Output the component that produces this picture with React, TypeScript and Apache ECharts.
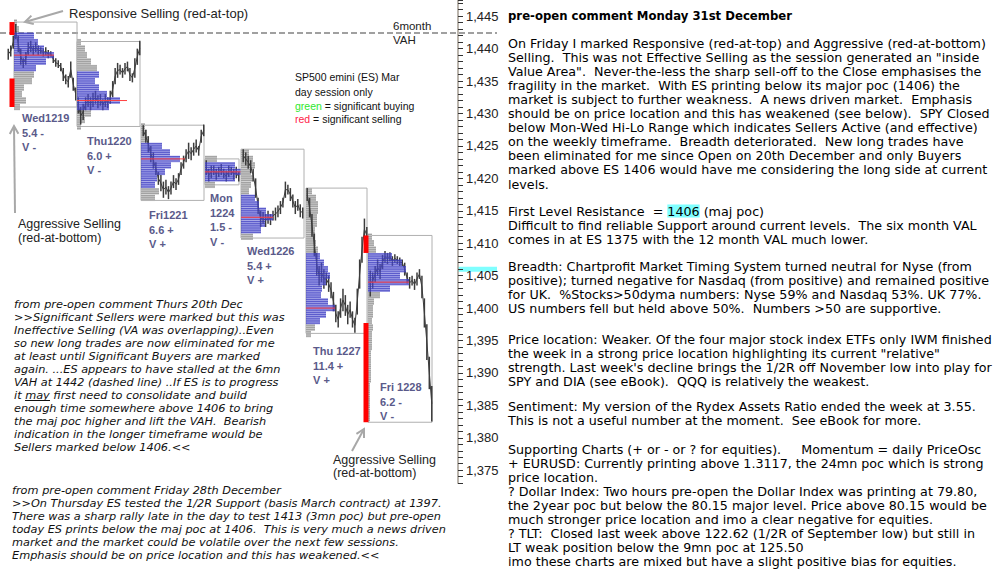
import React, { useEffect, useRef } from "react";
import * as echarts from "echarts";

// ---------------- Sessions (SP500 emini day sessions) ----------------
const sessionNames = ["Wed1219", "Thu1220", "Fri1221", "Mon1224", "Wed1226", "Thu1227", "Fri1228"];
const sessionStart = [14, 77, 141, 205, 241, 306, 368];
const sessionEnd = [77, 140, 204, 239, 304, 367, 432];
const traceStart = [7, 77, 142, 205, 242, 306, 369];
const traceEnd = [77, 141, 205, 240, 304, 368, 433];
const sessionHigh = [1444.1, 1441.1, 1428.2, 1423, 1424.5, 1418.5, 1411.2];
const sessionLow = [1431, 1428, 1416.6, 1419, 1410.8, 1396.1, 1382.4];

// Profiles: TPO width per 1-point price row, starting at profileTop going down
const profileTop = [1444, 1441, 1428, 1423, 1424, 1418, 1411];
const profileTpo = [
  [3, 5, 20, 24, 30, 40, 32, 22, 20, 18, 10, 8, 12, 6],
  [4, 8, 10, 14, 20, 22, 18, 22, 30, 43, 32, 14, 8, 4],
  [4, 6, 8, 21, 29, 39, 30, 24, 16, 14, 18, 14],
  [12, 30, 46, 30, 10],
  [8, 12, 14, 10, 12, 10, 8, 14, 18, 25, 32, 24, 20, 12],
  [6, 10, 12, 12, 11, 11, 9, 9, 10, 12, 14, 18, 22, 24, 20, 16, 15, 22, 29, 20, 14, 9, 5],
  [4, 6, 8, 24, 34, 38, 32, 41, 22, 12, 6, 5, 5, 4, 5, 4, 4, 4, 3, 3, 3, 3, 3, 2, 2, 2, 2, 2, 2],
];
const vaHigh = [1442, 1436, 1425, 1422, 1417, 1408, 1408];
const vaLow = [1437, 1431, 1419, 1420, 1412, 1398, 1403];
const poc = [1439, 1432, 1423, 1421, 1414, 1400, 1404];
const pocExtent = [40, 50, 44, 45, 32, 29, 41];

// Price bars [low, high]
const sessionBars: number[][][] = [
  [[1438.3, 1440.0], [1438.8, 1440.5], [1440.0, 1442.0], [1441.5, 1443.8], [1439.5, 1442.0], [1437.5, 1440.0], [1437.0, 1438.5], [1437.5, 1439.5], [1439.0, 1441.0], [1439.5, 1441.2], [1439.0, 1440.5], [1439.5, 1441.0], [1439.0, 1440.5], [1439.2, 1440.2], [1438.8, 1440.0], [1439.0, 1440.2], [1438.5, 1439.8], [1438.8, 1439.6], [1437.8, 1439.0], [1437.2, 1438.5], [1437.0, 1438.2], [1436.5, 1437.8], [1435.0, 1437.0], [1434.5, 1436.0], [1434.0, 1435.8], [1435.5, 1438.0], [1433.5, 1435.5], [1432.0, 1434.0]],
  [[1430.0, 1432.5], [1428.3, 1431.0], [1429.0, 1431.5], [1430.5, 1432.5], [1431.0, 1433.0], [1430.5, 1432.5], [1431.0, 1433.2], [1431.5, 1433.5], [1430.8, 1432.8], [1431.2, 1433.0], [1430.5, 1432.2], [1431.0, 1433.0], [1430.8, 1432.5], [1431.5, 1433.5], [1432.5, 1435.0], [1434.5, 1437.0], [1435.5, 1437.8], [1436.0, 1437.5], [1435.5, 1437.0], [1436.0, 1437.8], [1436.5, 1438.0], [1435.0, 1437.0], [1434.8, 1436.2], [1435.5, 1438.5], [1437.5, 1440.0], [1439.0, 1441.2]],
  [[1426.5, 1428.2], [1425.5, 1427.5], [1424.0, 1426.5], [1422.5, 1425.0], [1421.5, 1424.0], [1420.5, 1422.5], [1419.0, 1421.0], [1418.0, 1420.5], [1417.0, 1419.5], [1417.5, 1419.8], [1416.8, 1418.8], [1417.5, 1419.5], [1418.5, 1420.5], [1418.2, 1420.0], [1419.0, 1420.8], [1420.5, 1422.5], [1421.5, 1423.5], [1422.5, 1424.5], [1423.0, 1425.5], [1422.8, 1424.8], [1423.5, 1425.5], [1424.0, 1426.0], [1423.5, 1425.0], [1425.5, 1427.5], [1426.5, 1428.3]],
  [[1420.5, 1422.8], [1419.5, 1421.5], [1420.0, 1422.0], [1420.5, 1422.0], [1419.8, 1421.5], [1420.2, 1421.8], [1420.5, 1422.2], [1420.0, 1421.5], [1419.5, 1421.2], [1420.2, 1422.0], [1420.5, 1421.8], [1419.8, 1421.5], [1420.0, 1421.8], [1419.5, 1421.0]],
  [[1422.5, 1424.5], [1422.0, 1424.0], [1421.5, 1423.5], [1420.8, 1422.8], [1419.5, 1421.5], [1417.0, 1420.0], [1414.5, 1417.0], [1412.5, 1415.0], [1413.0, 1414.8], [1412.5, 1414.5], [1413.0, 1415.0], [1412.8, 1414.5], [1413.5, 1415.0], [1413.5, 1415.5], [1414.0, 1415.8], [1414.5, 1416.5], [1415.5, 1417.0], [1417.0, 1419.5], [1417.5, 1419.0], [1416.5, 1418.5], [1415.5, 1417.5], [1414.5, 1416.5], [1415.0, 1416.8], [1414.0, 1416.0], [1413.8, 1415.5]],
  [[1416.5, 1418.5], [1414.0, 1417.0], [1411.0, 1414.5], [1408.0, 1411.5], [1405.0, 1408.5], [1403.5, 1406.5], [1404.0, 1407.0], [1403.0, 1406.0], [1403.5, 1405.5], [1402.5, 1405.0], [1401.5, 1404.0], [1399.5, 1402.5], [1397.8, 1400.5], [1397.0, 1399.5], [1398.5, 1401.5], [1399.5, 1403.0], [1398.8, 1402.0], [1397.5, 1400.5], [1398.5, 1401.0], [1397.0, 1399.5], [1396.2, 1398.5], [1399.0, 1403.0], [1403.0, 1407.5], [1407.0, 1411.0], [1410.5, 1413.8], [1410.0, 1412.5]],
  [[1401.8, 1405.8], [1403.0, 1405.5], [1404.0, 1406.5], [1405.0, 1407.5], [1404.5, 1406.8], [1406.0, 1408.2], [1407.0, 1408.8], [1406.8, 1408.5], [1407.2, 1408.6], [1406.5, 1408.0], [1407.0, 1408.3], [1406.8, 1408.0], [1406.5, 1407.8], [1406.5, 1407.5], [1405.0, 1407.0], [1403.8, 1405.5], [1403.0, 1404.8], [1403.5, 1405.0], [1402.8, 1404.5], [1403.5, 1405.5], [1404.5, 1406.0], [1401.5, 1405.0], [1397.0, 1401.5], [1392.0, 1397.5], [1387.5, 1392.5], [1382.5, 1388.0]],
];

// Significant selling marks (red)
const sellSession = [0, 0, 6, 6];
const sellHigh = [1444.1, 1435.4, 1411.2, 1397.7];
const sellLow = [1442.1, 1431.0, 1408.5, 1382.4];

// Reference levels
const vahLevel = 1442.4;
const firstResistance = 1406;

// Session labels
const sessionLabels = [
  ["Wed1219", "5.4 -", "V -"],
  ["Thu1220", "6.0 +", "V -"],
  ["Fri1221", "6.6 +", "V +"],
  ["Mon", "1224", "1.5 -", "V -"],
  ["Wed1226", "5.4 +", "V +"],
  ["Thu 1227", "11.4 +", "V +"],
  ["Fri 1228", "6.2 -", "V -"],
];
const labelPos = [[22, 118], [87, 141], [149, 215], [210, 198], [247, 251], [313, 351], [380, 387]];

// Axis
const yMin = 1373;
const yMax = 1447.5;

// Texts
const block1 = [
  "from pre-open comment Thurs 20th Dec",
  ">>Significant Sellers were marked but this was",
  "Ineffective Selling (VA was overlapping)..Even",
  "so new long trades are now eliminated for me",
  "at least until Significant Buyers are marked",
  "again. ...ES appears to have stalled at the 6mn",
  "VAH at 1442 (dashed line) ..If ES is to progress",
  "it may first need to consolidate and build",
  "enough time somewhere above 1406 to bring",
  "the maj poc higher and lift the VAH.  Bearish",
  "indication in the longer timeframe would be",
  "Sellers marked below 1406.<<",
];
const block2 = [
  "from pre-open comment Friday 28th December",
  ">>On Thursday ES tested the 1/2R Support (basis March contract) at 1397.",
  "There was a sharp rally late in the day to test 1413 (3mn poc) but pre-open",
  "today ES prints below the maj poc at 1406.  This is very much a news driven",
  "market and the market could be volatile over the next few sessions.",
  "Emphasis should be on price location and this has weakened.<<",
];
const titleText = "pre-open comment Monday 31st December";
const paragraphs = [
  [
    "On Friday I marked Responsive (red-at-top) and Aggressive (red-at-bottom)",
    "Selling.  This was not Effective Selling as the session generated an \"inside",
    "Value Area\".  Never-the-less the sharp sell-off to the Close emphasises the",
    "fragility in the market.  With ES printing below its major poc (1406) the",
    "market is subject to further weakness.  A news driven market.  Emphasis",
    "should be on price location and this has weakened (see below).  SPY Closed",
    "below Mon-Wed Hi-Lo Range which indicates Sellers Active (and effective)",
    "on the weekly timeframe.  Breadth deteriorated.  New long trades have",
    "been eliminated for me since Open on 20th December and only Buyers",
    "marked above ES 1406 would have me considering the long side at current",
    "levels.",
  ],
  [
    "First Level Resistance  = {hl|1406} (maj poc)",
    "Difficult to find reliable Support around current levels.  The six month VAL",
    "comes in at ES 1375 with the 12 month VAL much lower.",
  ],
  [
    "Breadth: Chartprofit Market Timing System turned neutral for Nyse (from",
    "positive); turned negative for Nasdaq (from positive) and remained positive",
    "for UK.  %Stocks>50dyma numbers: Nyse 59% and Nasdaq 53%. UK 77%.",
    "US numbers fell but held above 50%.  Numbers >50 are supportive.",
  ],
  [
    "Price location: Weaker. Of the four major stock index ETFs only IWM finished",
    "the week in a strong price location highlighting its current \"relative\"",
    "strength. Last week's decline brings the 1/2R off November low into play for",
    "SPY and DIA (see eBook).  QQQ is relatively the weakest.",
  ],
  [
    "Sentiment: My version of the Rydex Assets Ratio ended the week at 3.55.",
    "This is not a useful number at the moment.  See eBook for more.",
  ],
  [
    "Supporting Charts (+ or - or ? for equities).     Momentum = daily PriceOsc",
    "+ EURUSD: Currently printing above 1.3117, the 24mn poc which is strong",
    "price location.",
    "? Dollar Index: Two hours pre-open the Dollar Index was printing at 79.80,",
    "the 2year poc but below the 80.15 major level. Price above 80.15 would be",
    "much stronger price location and imo a clear negative for equities.",
    "? TLT:  Closed last week above 122.62 (1/2R of September low) but still in",
    "LT weak position below the 9mn poc at 125.50",
    "imo these charts are mixed but have a slight positive bias for equities.",
  ],
];
const paragraphTop = [36, 204, 259, 332, 399, 442];

const SANS = "'Liberation Sans', Arial, sans-serif";
const VERD = "'DejaVu Sans', Verdana, sans-serif";
const BODY = 12.7;
const ITAL = 11.3;

function arrow(x1: number, y1: number, x2: number, y2: number) {
  const a = Math.atan2(y2 - y1, x2 - x1);
  const L = 9;
  const h1 = [x2 - L * Math.cos(a - 0.5), y2 - L * Math.sin(a - 0.5)];
  const h2 = [x2 - L * Math.cos(a + 0.5), y2 - L * Math.sin(a + 0.5)];
  return {
    type: "group",
    children: [
      { type: "line", shape: { x1, y1, x2, y2 }, style: { stroke: "#a8a8a8", lineWidth: 2 } },
      { type: "polyline", shape: { points: [h1, [x2, y2], h2] }, style: { stroke: "#a8a8a8", lineWidth: 2, fill: "none" } },
    ],
  };
}

function txt(x: number, y: number, text: string, font: string, fill = "#000", extra: any = {}) {
  return { type: "text", x, y, style: { text, font, fill, verticalAlign: "middle", align: "left", ...extra } };
}

function renderSession(_p: any, api: any) {
  const d = api.value(0);
  const ch: any[] = [];
  const [bx0, by0] = api.coord([sessionStart[d], sessionHigh[d]]);
  const [bx1, by1] = api.coord([sessionEnd[d], sessionLow[d]]);
  ch.push({ type: "rect", shape: { x: bx0, y: by0, width: bx1 - bx0, height: by1 - by0 }, style: { fill: "none", stroke: "#b0b0b0", lineWidth: 1 } });
  const rowH = api.size([0, 1])[1];
  const rows = (inVA: boolean) => {
    profileTpo[d].forEach((w, j) => {
      const p = profileTop[d] - j;
      const va = p <= vaHigh[d] && p >= vaLow[d];
      if (va !== inVA) return;
      const [px, py] = api.coord([sessionStart[d], p]);
      const [qx] = api.coord([sessionStart[d] + w, p]);
      const top = py - rowH / 2;
      ch.push({ type: "rect", shape: { x: px, y: top, width: qx - px, height: rowH }, style: { fill: va ? "rgba(95,95,215,0.58)" : "#c8c8c8" } });
      for (let k = 0; k < 3; k++) {
        ch.push({ type: "rect", shape: { x: px, y: top + (k * rowH) / 3 + 0.4, width: qx - px, height: 1.2 }, style: { fill: va ? "rgba(45,45,185,0.6)" : "#a2a2a2" } });
      }
    });
  };
  rows(false);
  const bars = sessionBars[d];
  const n = bars.length;
  const step = (traceEnd[d] - traceStart[d]) / n;
  const mids: number[][] = [];
  bars.forEach((b, i) => {
    const x = traceStart[d] + (i + 0.5) * step;
    const [lx, ly] = api.coord([x, b[0]]);
    const [, hy] = api.coord([x, b[1]]);
    ch.push({ type: "line", shape: { x1: lx, y1: ly, x2: lx, y2: hy }, style: { stroke: "#3c3c3c", lineWidth: 1.5 } });
    mids.push(api.coord([x, (b[0] + b[1]) / 2]));
  });
  ch.push({ type: "polyline", shape: { points: mids }, style: { stroke: "#3c3c3c", lineWidth: 1, fill: "none" } });
  rows(true);
  const [ax, ay] = api.coord([sessionStart[d], poc[d]]);
  const [cx] = api.coord([sessionStart[d] + pocExtent[d], poc[d]]);
  ch.push({ type: "line", shape: { x1: ax, y1: ay, x2: cx, y2: ay }, style: { stroke: "#ff4040", lineWidth: 1 } });
  return { type: "group", children: ch };
}

function renderSell(_p: any, api: any) {
  const i = api.value(0);
  const s = sellSession[i];
  const [x0, y0] = api.coord([sessionStart[s] - 4.5, sellHigh[i]]);
  const [x1, y1] = api.coord([sessionStart[s] + 0.5, sellLow[i]]);
  return { type: "rect", shape: { x: x0, y: y0, width: x1 - x0, height: y1 - y0 }, style: { fill: "#ff0000" } };
}

export default function App() {
  const ref = useRef<HTMLDivElement>(null);
  useEffect(() => {
    const chart = echarts.init(ref.current!, null, { renderer: "svg" });
    const graphics: any[] = [];
    graphics.push(txt(69, 13, "Responsive Selling (red-at-top)", `13px ${SANS}`, "#222"));
    graphics.push(arrow(63, 11, 25, 22));
    graphics.push(txt(393, 26, "6month", `11.5px ${SANS}`, "#222"));
    graphics.push(txt(393, 40, "VAH", `11.5px ${SANS}`, "#222"));
    graphics.push(txt(295, 77, "SP500 emini (ES) Mar", `10.5px ${SANS}`, "#111"));
    graphics.push(txt(295, 92, "day session only", `10.5px ${SANS}`, "#111"));
    graphics.push(txt(295, 106, "{g|green} = significant buying", `10.5px ${SANS}`, "#111", { rich: { g: { fill: "#2ee82e", font: `10.5px ${SANS}` } } }));
    graphics.push(txt(295, 119, "{r|red} = significant selling", `10.5px ${SANS}`, "#111", { rich: { r: { fill: "#ff1a4a", font: `10.5px ${SANS}` } } }));
    graphics.push(txt(18, 224, "Aggressive Selling", `12.5px ${SANS}`, "#222"));
    graphics.push(txt(18, 238, "(red-at-bottom)", `12.5px ${SANS}`, "#222"));
    graphics.push(arrow(15, 213, 14, 126));
    graphics.push(txt(333, 460, "Aggressive Selling", `12.5px ${SANS}`, "#222"));
    graphics.push(txt(333, 473, "(red-at-bottom)", `12.5px ${SANS}`, "#222"));
    graphics.push(arrow(352, 451, 364, 429));
    sessionLabels.forEach((lines, i) => {
      lines.forEach((l, k) => {
        graphics.push(txt(labelPos[i][0], labelPos[i][1] + k * 14.5, l, `bold 11px ${SANS}`, "#5a5a8a"));
      });
    });
    graphics.push({ type: "text", x: 14, y: 297.5, style: { text: block1.join("\n"), font: `italic ${ITAL}px ${VERD}`, lineHeight: 13, fill: "#111", verticalAlign: "top" } });
    graphics.push({ type: "line", shape: { x1: 25, y1: 400.5, x2: 50, y2: 400.5 }, style: { stroke: "#111", lineWidth: 1 } });
    graphics.push({ type: "text", x: 12, y: 483.5, style: { text: block2.join("\n"), font: `italic ${ITAL}px ${VERD}`, lineHeight: 13, fill: "#111", verticalAlign: "top" } });
    graphics.push(txt(508, 16, titleText, `bold 11.7px ${VERD}`, "#000"));
    paragraphs.forEach((p, i) => {
      graphics.push({
        type: "text",
        x: 508,
        y: paragraphTop[i],
        style: {
          text: p.join("\n"),
          font: `${BODY}px ${VERD}`,
          lineHeight: 14.1,
          fill: "#000",
          verticalAlign: "top",
          rich: { hl: { backgroundColor: "#7fffff", font: `${BODY}px ${VERD}`, lineHeight: 14.1, fill: "#000" } },
        },
      });
    });

    chart.setOption({
      animation: false,
      backgroundColor: "#fff",
      grid: { left: 0, top: 0, width: 458, height: (yMax - yMin) * 6.486 },
      xAxis: { type: "value", min: 0, max: 458, show: false },
      yAxis: {
        type: "value",
        position: "right",
        min: yMin,
        max: yMax,
        interval: 1,
        axisLine: { show: true, onZero: false, lineStyle: { color: "#a59d92", width: 1.5 } },
        axisTick: { show: true, length: 5, lineStyle: { color: "#333", width: 1 } },
        splitLine: { show: false },
        axisLabel: {
          margin: 8,
          color: "#222",
          fontFamily: "Liberation Sans",
          fontSize: 13,
          formatter: (v: number) => (v % 5 === 0 ? v.toLocaleString("en-US") : ""),
        },
      },
      graphic: graphics,
      series: [
        {
          type: "custom",
          z: -1,
          clip: false,
          data: [[firstResistance]],
          renderItem: (_p: any, api: any) => {
            const [x0, y] = api.coord([458, api.value(0)]);
            const [x1] = api.coord([497, api.value(0)]);
            return { type: "rect", shape: { x: x0, y: y - 2.5, width: x1 - x0, height: 5 }, style: { fill: "#80ffff" } };
          },
        },
        {
          type: "custom",
          clip: false,
          data: [[vahLevel]],
          renderItem: (_p: any, api: any) => {
            const [x0, y] = api.coord([0, api.value(0)]);
            const [x1] = api.coord([497, api.value(0)]);
            return { type: "line", shape: { x1: x0, y1: y, x2: x1, y2: y }, style: { stroke: "#a0a0a0", lineWidth: 2, lineDash: [6, 3] } };
          },
        },
        {
          type: "custom",
          clip: false,
          data: sessionNames.map((_, i) => [i]),
          renderItem: renderSession,
        },
        {
          type: "custom",
          clip: false,
          data: sellSession.map((_, i) => [i]),
          renderItem: renderSell,
        },
      ],
    });
    return () => chart.dispose();
  }, []);
  return <div ref={ref} style={{ position: "fixed", left: 0, top: 0, width: 997, height: 580, background: "#fff" }} />;
}
